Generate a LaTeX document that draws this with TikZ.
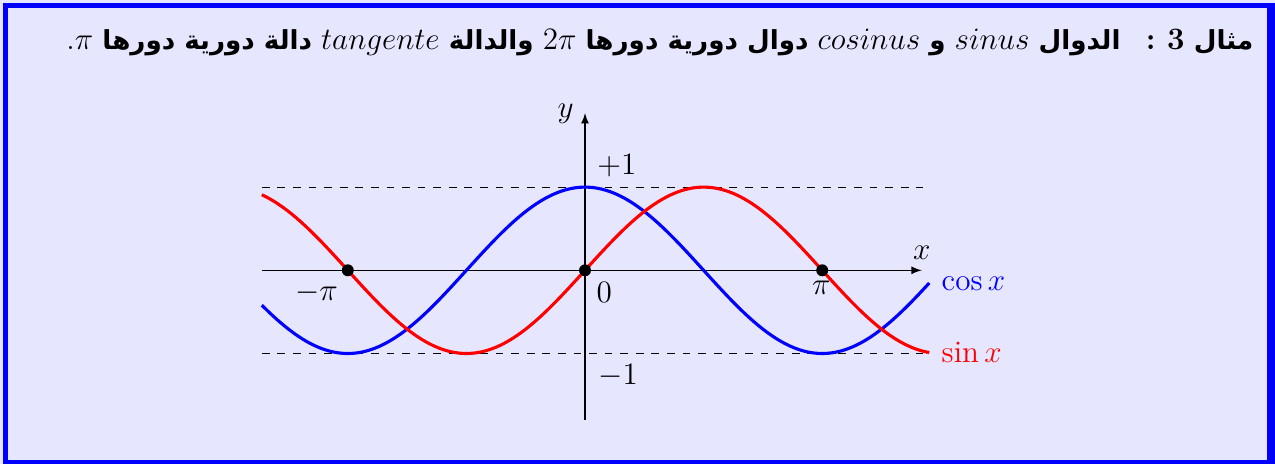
\documentclass[tikz,border=0pt]{standalone}
\usepackage{fontspec}
\usepackage{amsmath}
\newfontfamily\arabicfont[Script=Arabic,Scale=0.84]{DejaVu Sans}
\TeXXeTstate=1
\definecolor{lav}{RGB}{230,230,255}
\begin{document}
\begin{tikzpicture}[x=0.385pt,y=-0.385pt,
  curve/.style={line width=1.2pt},
  lbl/.style={inner sep=0pt,outer sep=0pt,font=\fontsize{12}{14.4}\selectfont},
  dotp/.style={circle,fill=black,inner sep=0pt,minimum size=4.6pt},
  guide/.style={dashed,line width=0.4pt},
  axisline/.style={line width=0.4pt,-latex}]
\useasboundingbox (0,0) rectangle (1275,464);
\fill[lav] (0,0) rectangle (1275,464);
\fill[blue] (3,3) rectangle (1275,464);
\fill[lav] (8.3,8.3) rectangle (1267.3,459.7);
% title
\node[lbl,anchor=base east] (title) at (1253.3,49.3) {\arabicfont\bfseries\beginR مثال {\rmfamily\bfseries 3 :}\hspace{0.5em} الدوال $sinus$ و $cosinus$ دوال دورية دورها $2\pi$ والدالة $tangente$ دالة دورية دورها $\pi${\rmfamily\mdseries .}\endR};
% graph
\begin{scope}[shift={(585,270.3)},x=29.07pt,y=32.03pt]
  \coordinate (O) at (0,0);
  \coordinate (xl) at (-4.28,0);
  \coordinate (xr) at (4.46,0);
  \coordinate (yb) at (0,-1.8);
  \coordinate (yt) at (0,1.89);
  \coordinate (pl) at (-4.28,1);
  \coordinate (pr) at (4.47,1);
  \coordinate (ml) at (-4.28,-1);
  \coordinate (mr) at (4.47,-1);
  \draw[guide] (pl) -- (pr);
  \draw[guide] (ml) -- (mr);
  \draw[axisline] (xl) -- (xr);
  \draw[axisline] (yb) -- (yt);
  \draw[curve,blue] plot[domain=-4.28:4.56,samples=200,smooth] (\x,{cos(\x r)});
  \draw[curve,red] plot[domain=-4.28:4.56,samples=200,smooth] (\x,{sin(\x r)});
  \node[dotp] (dm) at (-pi,0) {};
  \node[dotp] (d0) at (0,0) {};
  \node[dotp] (dp) at (pi,0) {};
\end{scope}
\node[lbl,anchor=base] (xlab) at (921.7,259.3) {$x$};
\node[lbl,anchor=base] (ylab) at (565.7,117) {$y$};
\node[lbl,anchor=base west] (p1) at (597.3,174) {$+1$};
\node[lbl,anchor=base west] (m1) at (598.3,384) {$-1$};
\node[lbl,anchor=base west] (zero) at (596.7,302) {$0$};
\node[lbl,anchor=base west] (mpi) at (295,300.7) {$-\pi$};
\node[lbl,anchor=base] (ppi) at (821.3,294) {$\pi$};
\node[lbl,anchor=base west,text=blue] (cosl) at (941.7,290) {$\cos x$};
\node[lbl,anchor=base west,text=red] (sinl) at (941.7,362.7) {$\sin x$};
\end{tikzpicture}
\end{document}
